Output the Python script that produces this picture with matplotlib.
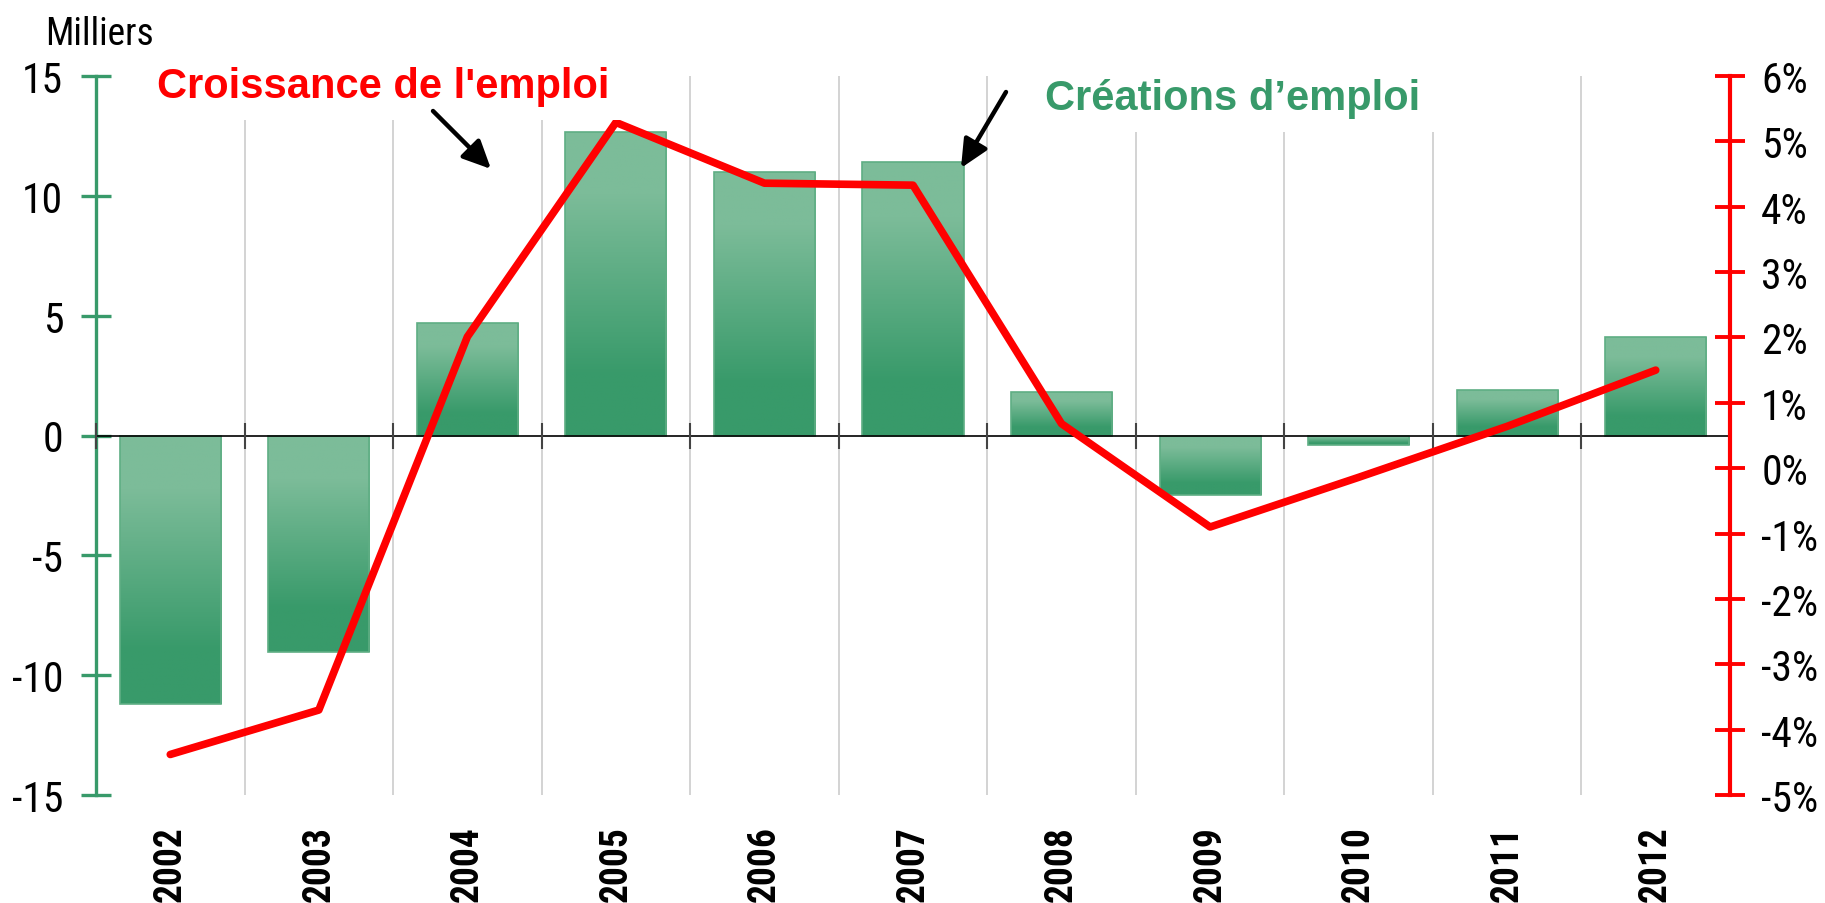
import matplotlib
matplotlib.use("Agg")
import matplotlib.pyplot as plt
import numpy as np
from matplotlib.colors import LinearSegmentedColormap
from matplotlib.patches import FancyArrowPatch
from matplotlib.ticker import FuncFormatter

plt.rcParams["axes.unicode_minus"] = False

years = ["2002", "2003", "2004", "2005", "2006", "2007", "2008", "2009", "2010", "2011", "2012"]
creations = [-11.2, -9.05, 4.7, 12.65, 11.0, 11.4, 1.8, -2.5, -0.4, 1.9, 4.1]       # milliers
croissance = [-4.38, -3.70, 2.01, 5.29, 4.36, 4.33, 0.68, -0.90, -0.14, 0.64, 1.50]  # %
left_ticks = [-15, -10, -5, 0, 5, 10, 15]
right_ticks = [-5, -4, -3, -2, -1, 0, 1, 2, 3, 4, 5, 6]

GREEN = "#389a6a"
LIGHT = "#7cbc99"
RED = "#ff0000"
NARROW = ["Roboto Condensed", "Archivo Narrow", "Liberation Sans"]
BOLD = ["Liberation Sans", "DejaVu Sans"]

W, H = 1825, 904
fig = plt.figure(figsize=(W / 100, H / 100), dpi=100)
ax = fig.add_axes([96 / W, 1 - 796 / H, (1730 - 96) / W, (796 - 77) / H])
ax2 = ax.twinx()

x = np.arange(len(years))
bounds = np.arange(len(years) + 1) - 0.5

# vertical gridlines at category boundaries
for b in bounds[1:-1]:
    ax.axvline(b, color="#d0d0d0", lw=1.3, zorder=0)

# bars with vertical gradient (light top -> dark bottom)
cmap = LinearSegmentedColormap.from_list("g", [LIGHT, GREEN], N=256)
grad = np.clip((np.linspace(0, 1, 200) - 0.2) / 0.6, 0, 1).reshape(-1, 1)
bars = ax.bar(x, creations, width=0.68, color="none", edgecolor="#5fae84", lw=1.2, zorder=2)
for bar, v in zip(bars, creations):
    x0 = bar.get_x()
    x1 = x0 + bar.get_width()
    top, bot = max(v, 0), min(v, 0)
    im = ax.imshow(grad, extent=[x0, x1, bot, top], aspect="auto", cmap=cmap,
                   origin="upper", vmin=0, vmax=1, zorder=1.5)
    im.set_clip_path(bar)

# zero line with category ticks
ax.axhline(0, color="black", lw=1.2, zorder=3)
ax.plot(bounds, np.zeros_like(bounds), ls="none", marker="|", ms=19, mew=1.5,
        color="#444444", zorder=3, clip_on=False)

ax.set_xlim(-0.5, len(years) - 0.5)
ax.set_ylim(-15, 15)
ax.set_yticks(left_ticks)
ax.set_xticks(x)
ax.set_xticklabels(years, rotation=90, va="top", fontsize=27, fontweight="bold",
                   family=NARROW)
ax.tick_params(axis="x", length=0, pad=22)
ax.tick_params(axis="y", direction="inout", length=21, width=2.4, color=GREEN,
               labelsize=30, pad=13)
for lab in ax.get_yticklabels():
    lab.set_family(NARROW)
for s in ["top", "bottom", "right"]:
    ax.spines[s].set_visible(False)
ax.spines["left"].set_color(GREEN)
ax.spines["left"].set_linewidth(2.4)

# growth line on right axis
ax2.plot(x, croissance, color=RED, lw=5.5, solid_capstyle="round", zorder=4)
ax2.set_ylim(-5, 6)
ax2.set_yticks(right_ticks)
ax2.yaxis.set_major_formatter(FuncFormatter(lambda v, p: f"{int(round(v))}%"))
ax2.tick_params(axis="y", direction="inout", length=21, width=2.8, color=RED,
                labelsize=30, pad=12)
for lab in ax2.get_yticklabels():
    lab.set_family(NARROW)
for s in ["top", "bottom", "left"]:
    ax2.spines[s].set_visible(False)
ax2.spines["right"].set_color(RED)
ax2.spines["right"].set_linewidth(3)

fig.text(45 / W, 1 - 45 / H, "Milliers", fontsize=27, family=NARROW, va="baseline")

# annotations
fig.text(157 / W, 1 - 98 / H, "Croissance de l'emploi", fontsize=30, fontweight="bold",
         color=RED, family=BOLD, va="baseline", zorder=3,
         bbox=dict(facecolor="white", edgecolor="none", pad=10))
fig.text(1045 / W, 1 - 110 / H, "Créations d’emploi", fontsize=30, fontweight="bold",
         color=GREEN, family=BOLD, va="baseline", zorder=3,
         bbox=dict(facecolor="white", edgecolor="none", pad=10))

style = "-|>,head_length=1.7,head_width=0.8"
for (xa, ya), (xb, yb) in [((433, 112), (491, 170)), ((1006, 93), (961, 169))]:
    fig.add_artist(FancyArrowPatch((xa / W, 1 - ya / H), (xb / W, 1 - yb / H),
                                   transform=fig.transFigure, arrowstyle=style,
                                   mutation_scale=10, lw=3.2, color="black",
                                   shrinkA=0, shrinkB=0, zorder=5))

fig.savefig("out.png", dpi=100, facecolor="white")
